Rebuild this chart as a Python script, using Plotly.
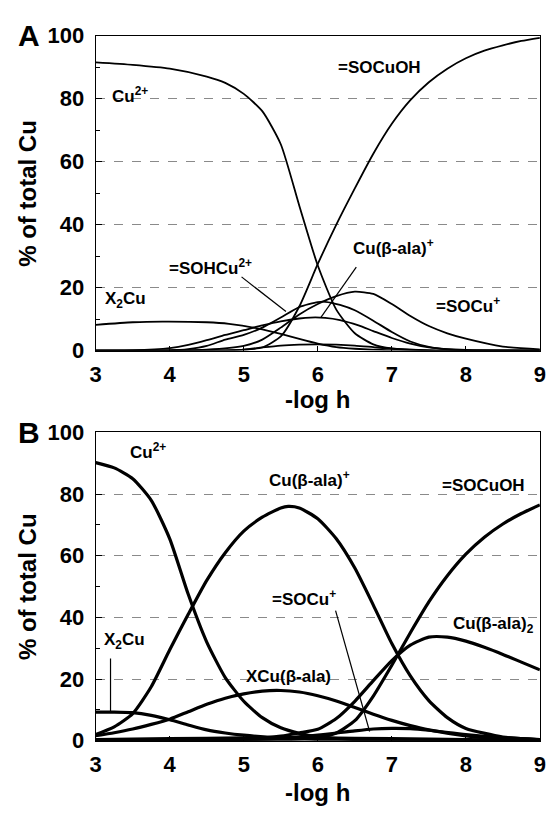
import plotly.graph_objects as go

# ---------------- Panel A data ----------------
a_cu_x = [3, 3.5, 4, 4.5, 4.75, 5, 5.25, 5.5, 5.75, 6, 6.25, 6.5, 6.75, 7, 7.5, 8, 9]
a_cu_y = [91.5, 90.7, 89.5, 87, 85, 81.5, 76, 65.5, 46, 27, 13, 5.5, 2, 0.7, 0.1, 0, 0]

a_socuoh_x = [3, 4, 4.5, 5, 5.25, 5.5, 5.75, 6, 6.25, 6.5, 6.75, 7, 7.25, 7.5, 7.75, 8, 8.25, 8.5, 8.75, 9]
a_socuoh_y = [0, 0, 0, 0.3, 1, 4.5, 14, 27.5, 40, 51.5, 62.5, 72, 79.5, 85.2, 89.5, 92.8, 95.2, 96.9, 98.3, 99.3]

a_socu_x = [3, 4, 4.5, 5, 5.25, 5.5, 5.75, 6, 6.25, 6.5, 6.75, 7, 7.25, 7.5, 7.75, 8, 8.5, 9]
a_socu_y = [0, 0.1, 0.3, 1.5, 3.5, 7.3, 11.5, 14.8, 17.3, 18.7, 18, 14.8, 11, 7.8, 5.5, 3.8, 1.3, 0.4]

a_sohcu_x = [3, 4, 4.25, 4.5, 4.75, 5, 5.25, 5.5, 5.75, 6, 6.1, 6.3, 6.5, 6.75, 7, 7.25, 7.5, 7.75, 8, 9]
a_sohcu_y = [0, 0.1, 0.5, 1.5, 3.5, 5, 7.3, 10.5, 13.8, 15.4, 15.5, 14.5, 12.8, 9.5, 5.9, 2.9, 1.2, 0.4, 0.1, 0]

a_cuala_x = [3, 3.5, 4, 4.25, 4.5, 4.75, 5, 5.25, 5.5, 5.75, 5.9, 6.1, 6.3, 6.55, 6.75, 7, 7.25, 7.5, 8, 9]
a_cuala_y = [0, 0.1, 0.8, 1.8, 3.3, 5, 6.5, 8, 9.3, 10.2, 10.5, 10.4, 9.7, 8, 6.2, 4, 2.2, 1, 0.2, 0]

a_x2cu_x = [3, 3.5, 3.9, 4.5, 4.8, 5.2, 5.5, 5.75, 6, 6.25, 6.5, 7, 7.5, 8, 9]
a_x2cu_y = [8.2, 9.0, 9.2, 9.0, 8.5, 7, 5.3, 3.7, 2.2, 1.1, 0.6, 0.1, 0, 0, 0]

a_minor_x = [3, 4.5, 5, 5.25, 5.5, 5.75, 6, 6.25, 6.5, 6.75, 7, 7.5, 8, 9]
a_minor_y = [0, 0, 0.3, 1, 1.6, 1.9, 2, 1.9, 1.6, 1.1, 0.6, 0.1, 0, 0]

# ---------------- Panel B data ----------------
b_cu_x = [3, 3.25, 3.5, 3.75, 4, 4.25, 4.5, 4.75, 5, 5.25, 5.5, 5.75, 6, 6.5, 7, 8, 9]
b_cu_y = [90.2, 88.5, 85, 78, 65.5, 47.5, 32, 20.5, 12.8, 7.5, 4.2, 2.4, 1.3, 0.4, 0.1, 0, 0]

b_cuala_x = [3, 3.25, 3.5, 3.75, 4, 4.25, 4.5, 4.75, 5, 5.25, 5.5, 5.6, 5.75, 6, 6.25, 6.5, 6.75, 7, 7.25, 7.5, 7.75, 8, 8.5, 9]
b_cuala_y = [2, 4.5, 8.8, 17.5, 29.5, 41, 52, 61, 68, 72.5, 75.5, 76, 75.5, 72, 65.5, 56, 44, 31.5, 21, 13, 7.5, 4, 1.2, 0.3]

b_socuoh_x = [3, 5, 5.5, 6, 6.25, 6.5, 6.75, 7, 7.25, 7.5, 7.75, 8, 8.25, 8.5, 8.75, 9]
b_socuoh_y = [0, 0.1, 0.3, 1, 2.5, 6.5, 14.5, 24.5, 35, 45, 53.5, 60.5, 66, 70.3, 73.7, 76.5]

b_cuala2_x = [3, 5, 5.5, 5.75, 6, 6.25, 6.5, 6.75, 7, 7.25, 7.5, 7.75, 8, 8.25, 8.5, 8.75, 9]
b_cuala2_y = [0, 0.5, 1.5, 2.5, 3.7, 7.2, 12.8, 19.5, 26, 31, 33.6, 33.6, 32.3, 30.3, 28, 25.5, 23]

b_xcuala_x = [3, 3.25, 3.5, 3.75, 4, 4.25, 4.5, 4.75, 5, 5.25, 5.5, 5.75, 6, 6.25, 6.5, 6.75, 7, 7.25, 7.5, 8, 8.5, 9]
b_xcuala_y = [1.6, 2.6, 3.8, 5.3, 7, 9.4, 11.8, 13.8, 15.2, 16.1, 16.3, 15.8, 14.6, 12.9, 10.8, 8.6, 6.6, 4.9, 3.5, 1.6, 0.7, 0.3]

b_x2cu_x = [3, 3.25, 3.5, 3.75, 4, 4.25, 4.5, 4.75, 5, 5.5, 6, 6.5, 7, 9]
b_x2cu_y = [9.3, 9.3, 9.1, 8.2, 6.8, 5.1, 3.5, 2.5, 1.8, 0.9, 0.4, 0.1, 0, 0]

b_socu_x = [3, 5, 5.5, 6, 6.5, 6.75, 7, 7.25, 7.5, 8, 8.5, 9]
b_socu_y = [0, 0.3, 0.8, 1.8, 3.2, 3.8, 4, 3.9, 3.4, 2, 1, 0.4]

b_minor_x = [3, 4, 5, 6, 7, 8, 9]
b_minor_y = [0.4, 0.7, 0.9, 0.9, 0.7, 0.4, 0.2]

y_ticks = [0, 20, 40, 60, 80, 100]
x_ticks = [3, 4, 5, 6, 7, 8, 9]

FONT = "Liberation Sans, Arial, Helvetica, sans-serif"

fig = go.Figure()

def add(xs, ys, axis, width):
    fig.add_trace(go.Scatter(
        x=xs, y=ys, mode="lines", xaxis="x" if axis == 1 else "x2",
        yaxis="y" if axis == 1 else "y2",
        line=dict(color="black", width=width, shape="spline", smoothing=0.6),
        showlegend=False, hoverinfo="skip"))

wA = 1.8
for xs, ys in [(a_cu_x, a_cu_y), (a_socuoh_x, a_socuoh_y), (a_socu_x, a_socu_y),
               (a_sohcu_x, a_sohcu_y), (a_cuala_x, a_cuala_y), (a_x2cu_x, a_x2cu_y),
               (a_minor_x, a_minor_y)]:
    add(xs, ys, 1, wA)

wB = 3.2
for xs, ys in [(b_cu_x, b_cu_y), (b_cuala_x, b_cuala_y), (b_socuoh_x, b_socuoh_y),
               (b_cuala2_x, b_cuala2_y), (b_xcuala_x, b_xcuala_y), (b_x2cu_x, b_x2cu_y),
               (b_socu_x, b_socu_y), (b_minor_x, b_minor_y)]:
    add(xs, ys, 2, wB)

XDOM = [91.7 / 554, 545.7 / 554]
A_DOM = [1 - 349.3 / 818, 1 - 24.3 / 818]
B_DOM = [1 - 751.7 / 818, 1 - 433.7 / 818]

tickfont = dict(family=FONT, size=22, color="black", weight="bold")

def xaxis(domain, anchor):
    return dict(domain=domain, anchor=anchor, range=[3, 9], tickvals=x_ticks,
                ticks="inside", ticklen=5, tickcolor="black", showgrid=False,
                zeroline=False, showline=True, linecolor="black", linewidth=1,
                mirror=True, tickfont=tickfont, ticklabelstandoff=4)

def yaxis(domain, anchor):
    return dict(domain=domain, anchor=anchor, range=[0, 100], tickvals=y_ticks,
                ticks="inside", ticklen=6, tickcolor="black", showgrid=True,
                gridcolor="#8a8a8a", griddash="dash", gridwidth=1,
                zeroline=False, showline=True, linecolor="black", linewidth=1,
                mirror=True, tickfont=tickfont, ticklabelstandoff=6,
                minor=dict(dtick=10, ticks="inside", ticklen=4, tickcolor="black",
                           showgrid=False))

fig.update_layout(
    width=554, height=818, margin=dict(l=0, r=0, t=0, b=0),
    paper_bgcolor="white", plot_bgcolor="white",
    xaxis=xaxis(XDOM, "y"), yaxis=yaxis(A_DOM, "x"),
    xaxis2=xaxis(XDOM, "y2"), yaxis2=yaxis(B_DOM, "x2"),
    font=dict(family=FONT, color="black"),
)

LF = dict(family=FONT, size=17, color="black", weight="bold")

def label(text, x, y, axis, anchor="left"):
    fig.add_annotation(text=text, x=x, y=y, xref="x" if axis == 1 else "x2",
                       yref="y" if axis == 1 else "y2", showarrow=False,
                       xanchor=anchor, yanchor="middle", font=LF)

def pointer(x0, y0, x1, y1, axis):
    fig.add_shape(type="line", x0=x0, y0=y0, x1=x1, y1=y1,
                  xref="x" if axis == 1 else "x2", yref="y" if axis == 1 else "y2",
                  line=dict(color="black", width=1.2))

# Panel A labels
label("Cu<sup>2+</sup>", 3.19, 81, 1)
label("X<sub>2</sub>Cu", 3.1, 16, 1)
label("=SOHCu<sup>2+</sup>", 3.96, 26.5, 1)
label("Cu(β-ala)<sup>+</sup>", 6.45, 33, 1)
label("=SOCuOH", 6.24, 90, 1)
label("=SOCu<sup>+</sup>", 7.57, 14.5, 1)
pointer(4.97, 23.4, 5.57, 12.4, 1)
pointer(6.52, 26.5, 6.04, 10.5, 1)

# Panel B labels
label("Cu<sup>2+</sup>", 3.43, 94, 2)
label("Cu(β-ala)<sup>+</sup>", 5.32, 85, 2)
label("=SOCuOH", 7.65, 82.8, 2)
label("=SOCu<sup>+</sup>", 5.35, 46.3, 2)
label("Cu(β-ala)<sub>2</sub>", 7.8, 37.5, 2)
label("XCu(β-ala)", 5.0, 20.8, 2)
label("X<sub>2</sub>Cu", 3.08, 32.5, 2)
pointer(3.2, 26.7, 3.2, 9.4, 2)
pointer(6.24, 42.2, 6.70, 3.0, 2)

# Panel letters and axis titles
TF = dict(family=FONT, size=24, color="black", weight="bold")
for letter, yp in [("A", 1 - 24 / 818), ("B", 1 - 434 / 818)]:
    fig.add_annotation(text=letter, x=24 / 554, y=yp, xref="paper", yref="paper",
                       showarrow=False, xanchor="center", yanchor="middle",
                       font=dict(family=FONT, size=30, color="black", weight="bold"))
for yp in [1 - 187 / 818, 1 - 592.7 / 818]:
    fig.add_annotation(text="% of total Cu", x=22 / 554, y=yp, xref="paper", yref="paper",
                       showarrow=False, xanchor="center", yanchor="middle",
                       textangle=-90, font=TF)
for yp in [1 - 400 / 818, 1 - 805 / 818]:
    fig.add_annotation(text="-log h", x=318.7 / 554, y=yp, xref="paper", yref="paper",
                       showarrow=False, xanchor="center", yanchor="middle", font=TF)

fig.write_html("out.html", config={"displayModeBar": False},
               post_script="document.body.style.margin='0';document.body.style.overflow='hidden';")
